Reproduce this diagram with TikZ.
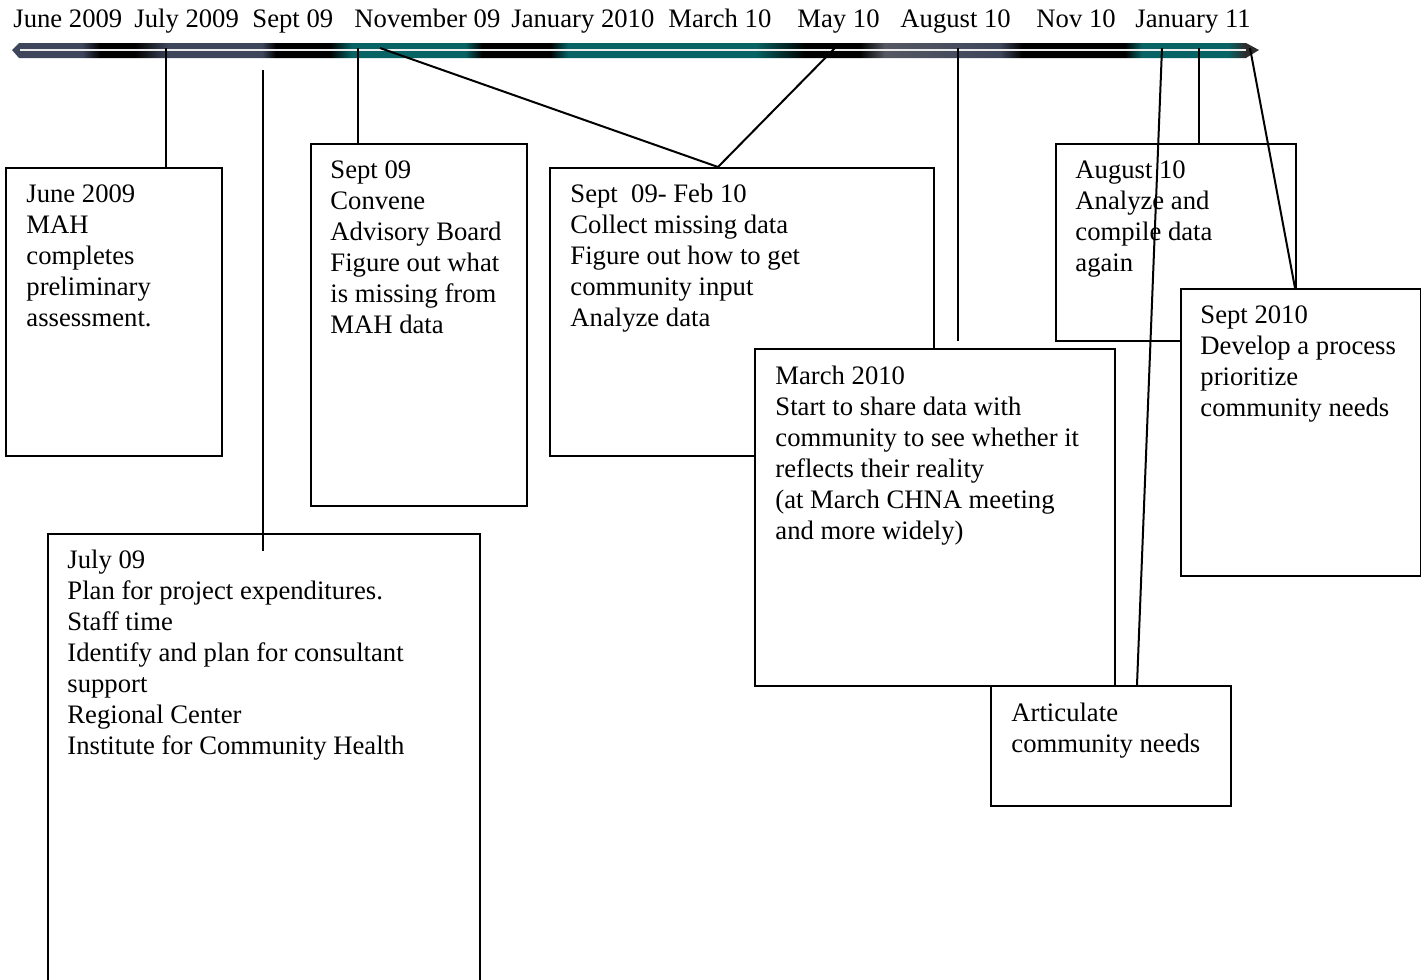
\documentclass[tikz,border=0pt]{standalone}
\usepackage{fontspec}
\setmainfont{Liberation Serif}
\usetikzlibrary{calc}
\definecolor{teal1}{RGB}{8,100,100}
\definecolor{gblue}{RGB}{62,70,92}
\definecolor{dgrey}{RGB}{45,45,48}
\definecolor{mgrey}{RGB}{85,88,98}
\begin{document}
\begin{tikzpicture}[x=0.45pt,y=-0.45pt,
  every node/.style={font=\fontsize{12}{13.95}\selectfont},
  box/.style={draw=black,line width=0.9pt,fill=white,anchor=north west,inner sep=0pt},
  boxtext/.style={anchor=north west,inner sep=0pt,align=left},
  lbl/.style={anchor=base west,inner sep=0pt},
  conn/.style={draw=black,line width=0.9pt}]
\useasboundingbox (0,0) rectangle (1421,980);

% top labels
\node[lbl] (l1) at (13,27) {June 2009};
\node[lbl] (l2) at (134,27) {July 2009};
\node[lbl] (l3) at (252,27) {Sept 09};
\node[lbl] (l4) at (354,27) {November 09};
\node[lbl] (l5) at (511,27) {January 2010};
\node[lbl] (l6) at (668,27) {March 10};
\node[lbl] (l7) at (797,27) {May 10};
\node[lbl] (l8) at (900,27) {August 10};
\node[lbl] (l9) at (1036,27) {Nov 10};
\node[lbl] (l10) at (1135,27) {January 11};

% timeline bar
\begin{scope}
\clip (12,50) -- (19,43) -- (1246,43) -- (1259,50) -- (1246,58) -- (19,58) -- cycle;
\shade[left color=gblue,right color=gblue] (10,43) rectangle (82,58);
\shade[left color=gblue,right color=black] (82,43) rectangle (100,58);
\shade[left color=black,right color=black] (100,43) rectangle (135,58);
\shade[left color=black,right color=gblue] (135,43) rectangle (168,58);
\shade[left color=gblue,right color=gblue] (168,43) rectangle (262,58);
\shade[left color=gblue,right color=black] (262,43) rectangle (276,58);
\shade[left color=black,right color=black] (276,43) rectangle (330,58);
\shade[left color=black,right color=teal1] (330,43) rectangle (352,58);
\shade[left color=teal1,right color=teal1] (352,43) rectangle (465,58);
\shade[left color=teal1,right color=black] (465,43) rectangle (482,58);
\shade[left color=black,right color=black] (482,43) rectangle (550,58);
\shade[left color=black,right color=teal1] (550,43) rectangle (568,58);
\shade[left color=teal1,right color=teal1] (568,43) rectangle (755,58);
\shade[left color=teal1,right color=black] (755,43) rectangle (805,58);
\shade[left color=black,right color=black] (805,43) rectangle (860,58);
\shade[left color=black,right color=mgrey] (860,43) rectangle (885,58);
\shade[left color=mgrey,right color=gblue] (885,43) rectangle (1000,58);
\shade[left color=gblue,right color=black] (1000,43) rectangle (1022,58);
\shade[left color=black,right color=black] (1022,43) rectangle (1125,58);
\shade[left color=black,right color=teal1] (1125,43) rectangle (1142,58);
\shade[left color=teal1,right color=teal1] (1142,43) rectangle (1228,58);
\shade[left color=teal1,right color=dgrey] (1228,43) rectangle (1245,58);
\shade[left color=dgrey,right color=dgrey] (1245,43) rectangle (1260,58);
\end{scope}
\draw[white!85!gray,line width=0.9pt] (20,50) -- (1246,50);

% bar points
\coordinate (b1) at (166,48);
\coordinate (b3) at (358,48);
\coordinate (b4) at (380,48);
\coordinate (b5) at (835,48);
\coordinate (b6) at (958,48);
\coordinate (b7) at (1162,48);
\coordinate (b8) at (1199,48);
\coordinate (b9) at (1250,48);
\coordinate (j1) at (263,70);
\coordinate (j2) at (263,551);
\coordinate (b6e) at (958,341);

% boxes
\node[box,minimum width=216*0.45pt,minimum height=288*0.45pt] (jun) at (5,167) {};
\node[box,minimum width=216*0.45pt,minimum height=362*0.45pt] (sep) at (310,143) {};
\node[box,minimum width=384*0.45pt,minimum height=288*0.45pt] (sf) at (549,167) {};
\node[box,minimum width=360*0.45pt,minimum height=337*0.45pt] (mar) at (754,348) {};
\node[box,minimum width=240*0.45pt,minimum height=197*0.45pt] (aug) at (1055,143) {};
\node[box,minimum width=240*0.45pt,minimum height=287*0.45pt] (s10) at (1180,288) {};
\node[box,minimum width=240*0.45pt,minimum height=120*0.45pt] (art) at (990,685) {};
\node[box,minimum width=432*0.45pt,minimum height=460*0.45pt] (jul) at (47,533) {};

% box texts
\node[boxtext] (tjun) at (26,184) {June 2009\\MAH\\completes\\preliminary\\assessment.};
\node[boxtext] (tsep) at (330,160) {Sept 09\\Convene\\Advisory Board\\Figure out what\\is missing from\\MAH data};
\node[boxtext] (tsf) at (570,184) {Sept\ \ 09- Feb 10\\Collect missing data\\Figure out how to get\\community input\\Analyze data};
\node[boxtext] (tjul) at (67,550) {July 09\\Plan for project expenditures.\\Staff time\\Identify and plan for consultant\\support\\Regional Center\\Institute for Community Health};
\node[boxtext] (tmar) at (775,366) {March 2010\\Start to share data with\\community to see whether it\\reflects their reality\\(at March CHNA meeting\\and more widely)};
\node[boxtext] (taug) at (1075,160) {August 10\\Analyze and\\compile data\\again};
\node[boxtext] (ts10) at (1200,305) {Sept 2010\\Develop a process\\prioritize\\community needs};
\node[boxtext] (tart) at (1011,703) {Articulate\\community needs};

% connectors
\draw[conn] (b1) -- (b1 |- jun.north);
\draw[conn] (j1) -- (j2);
\draw[conn] (b3) -- (b3 |- sep.north);
\coordinate (sfp) at ($(sf.north west)+(169,0)$);
\draw[conn] (b4) -- (sfp);
\draw[conn] (b5) -- (sfp);
\draw[conn] (b6) -- (b6e);
\coordinate (artp) at ($(art.north west)+(147,0)$);
\draw[conn] (b7) -- (artp);
\draw[conn] (b8) -- (b8 |- aug.north);
\coordinate (s10p) at ($(s10.north west)+(115,0)$);
\draw[conn] (b9) -- (s10p);
\end{tikzpicture}
\end{document}
